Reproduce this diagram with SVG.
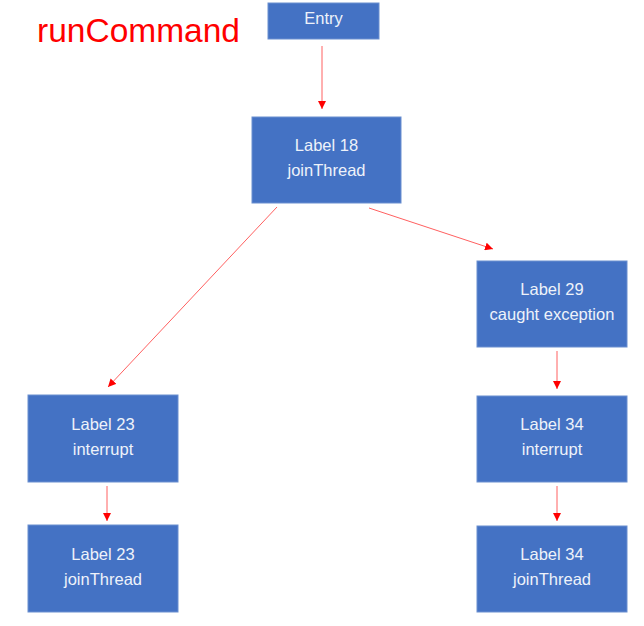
<svg xmlns="http://www.w3.org/2000/svg" width="644" height="626" viewBox="0 0 644 626">
<style>
.box{fill:#4472C4;stroke:#6A8FD0;stroke-width:1}
.t{font-family:"Liberation Sans",Arial,sans-serif;font-size:16.5px;fill:#EEF2FA;text-anchor:middle}
.c{stroke:#FF6060;stroke-width:1;fill:none;marker-end:url(#ah)}
</style>
<defs>
<marker id="ah" viewBox="0 0 10 10" refX="10" refY="5" markerWidth="8" markerHeight="8" markerUnits="userSpaceOnUse" orient="auto">
<path d="M0,0 L10,5 L0,10 z" fill="#FF0000"/>
</marker>
</defs>
<rect width="644" height="626" fill="#FFFFFF"/>
<text x="37" y="42" font-family="Liberation Sans,Arial,sans-serif" font-size="34" fill="#FF0000" textLength="203" lengthAdjust="spacingAndGlyphs">runCommand</text>
<g id="connectors">
<line class="c" x1="322" y1="46" x2="322" y2="109"/>
<line class="c" x1="277" y1="207" x2="108" y2="387"/>
<line class="c" x1="369" y1="208" x2="493" y2="249"/>
<line class="c" x1="557" y1="351" x2="557" y2="389"/>
<line class="c" x1="557" y1="486" x2="557" y2="521"/>
<line class="c" x1="107" y1="486" x2="107" y2="521"/>
</g>
<g id="entry">
<rect class="box" x="268" y="3" width="111" height="36"/>
<text class="t" x="323.5" y="24">Entry</text>
</g>
<g id="label18">
<rect class="box" x="252" y="117" width="149" height="86"/>
<text class="t" x="326.5" y="151">Label 18</text>
<text class="t" x="326.5" y="176">joinThread</text>
</g>
<g id="label29">
<rect class="box" x="477" y="261" width="150" height="86"/>
<text class="t" x="552" y="295">Label 29</text>
<text class="t" x="552" y="320">caught exception</text>
</g>
<g id="label34i">
<rect class="box" x="477" y="396" width="150" height="86"/>
<text class="t" x="552" y="430">Label 34</text>
<text class="t" x="552" y="455">interrupt</text>
</g>
<g id="label34j">
<rect class="box" x="477" y="526" width="150" height="86"/>
<text class="t" x="552" y="560">Label 34</text>
<text class="t" x="552" y="585">joinThread</text>
</g>
<g id="label23i">
<rect class="box" x="28" y="395" width="150" height="87"/>
<text class="t" x="103" y="430">Label 23</text>
<text class="t" x="103" y="455">interrupt</text>
</g>
<g id="label23j">
<rect class="box" x="28" y="525" width="150" height="87"/>
<text class="t" x="103" y="560">Label 23</text>
<text class="t" x="103" y="585">joinThread</text>
</g>
</svg>
